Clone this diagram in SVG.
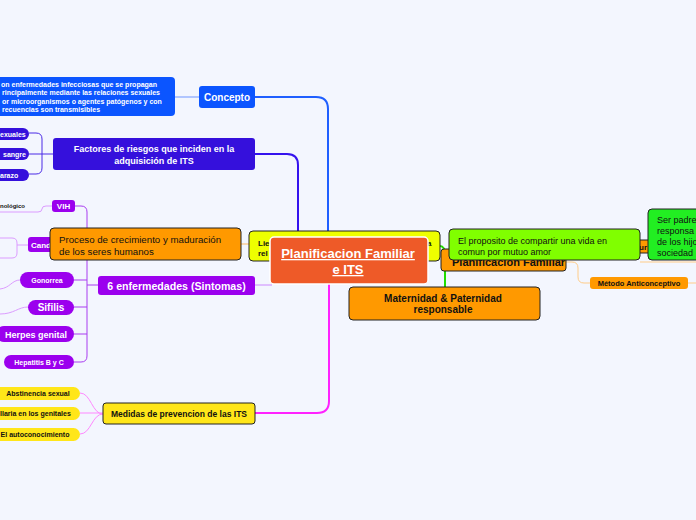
<svg xmlns="http://www.w3.org/2000/svg" width="696" height="520" viewBox="0 0 696 520">
<style>
text{font-family:"Liberation Sans",Arial,sans-serif}
.w{fill:#fff;font-weight:bold}
.k{fill:#111}
.kb{fill:#111;font-weight:bold}
.blue{fill:#0b55ff}
.ind{fill:#3510dc}
.pur{fill:#9b00ee}
.org{fill:#ff9900;stroke:#222;stroke-width:1}
.yel{fill:#ffe619}
.c{text-anchor:middle}
</style>
<rect width="696" height="520" fill="#f3f6fe"/>
<g id="connectors" fill="none">
  <path d="M175,97 H199" stroke="#6f95ff" stroke-width="1"/>
  <path d="M255,97 H316 Q328,97 328,109 V240" stroke="#1f5fff" stroke-width="2"/>
  <path d="M255,154 H287 Q298,154 298,165 V234" stroke="#3412ee" stroke-width="2"/>
  <path d="M255,413 H317 Q329,413 329,401 V282" stroke="#ff22ff" stroke-width="2"/>
  <path d="M255,285 H272" stroke="#cc88ff" stroke-width="1"/>
  <path d="M241,244 H250" stroke="#ffbb66" stroke-width="1"/>
  <path d="M53,154 H42 M29,154 H42 M29,133 H36 Q42,133 42,139 V168 Q42,174 36,174 H29" stroke="#4a2ae6" stroke-width="1"/>
  <path d="M75,206 H81 Q87,206 87,212 V356 Q87,362 81,362 H74 M74,280 H87 M74,307 H87 M74,334 H87 M87,285 H98 M58,245 H87" stroke="#a93cf0" stroke-width="1"/>
  <path d="M52,206 H46 Q42,206 42,209 Q42,212 38,212 H0 M28,245 H17 M0,238 H12 Q17,238 17,243 V253 Q17,258 12,258 H0 M20,280 C12,280 10,288 0,289 M28,307 C18,307 14,314 0,314" stroke="#dc9cff" stroke-width="1"/>
  <path d="M80,393 C91,393 92,414 103,414 M80,413 H103 M80,434 C91,434 92,414 103,414" stroke="#ff88ff" stroke-width="1"/>
  <path d="M440,246 Q445,246 445,256 V288" stroke="#22dd00" stroke-width="2"/>
  <path d="M566,262 H572 Q578,262 578,268 V277 Q578,283 584,283 H590 M688,283 H696 M640,262 H696" stroke="#ffcc88" stroke-width="1"/>
</g>
<g id="concepto-texto">
  <rect x="-10" y="77" width="185" height="39" rx="4" class="blue"/>
  <text class="w" font-size="7" x="1" y="87">on enfermedades infecciosas que se propagan</text>
  <text class="w" font-size="7" x="2" y="95">rincipalmente mediante las relaciones sexuales</text>
  <text class="w" font-size="7" x="2" y="104">or microorganismos o agentes patógenos y con</text>
  <text class="w" font-size="7" x="2" y="112">recuencias son transmisibles</text>
</g>
<g id="concepto">
  <rect x="199" y="86" width="56" height="22" rx="3" class="blue"/>
  <text class="w c" font-size="10" x="227" y="101">Concepto</text>
</g>
<g id="factores">
  <rect x="53" y="138" width="202" height="32" rx="3" class="ind"/>
  <text class="w c" font-size="9" x="154" y="152">Factores de riesgos que inciden en la</text>
  <text class="w c" font-size="9" x="154" y="164">adquisición de ITS</text>
</g>
<g id="f-sexuales"><rect x="-6" y="128" width="35" height="12" rx="6" class="ind"/><text class="w" font-size="7" x="0" y="136.5">exuales</text></g>
<g id="f-sangre"><rect x="-6" y="148" width="35" height="12" rx="6" class="ind"/><text class="w" font-size="7" x="3" y="157">sangre</text></g>
<g id="f-embarazo"><rect x="-6" y="169" width="35" height="12" rx="6" class="ind"/><text class="w" font-size="7" x="0" y="177.5">arazo</text></g>
<g id="tecnologico"><text class="kb" font-size="6" x="0" y="208">nológico</text></g>
<g id="vih"><rect x="52" y="200" width="23" height="12" rx="3" class="pur"/><text class="w c" font-size="8" x="63.5" y="209">VIH</text></g>
<g id="cand"><rect x="28" y="237" width="30" height="15" rx="3" class="pur"/><text class="w" font-size="8" x="31" y="248">Cand</text></g>
<g id="proceso">
  <rect x="50" y="228" width="191" height="32" rx="4" class="org"/>
  <text class="k" font-size="9.7" x="59" y="243">Proceso de crecimiento y maduración</text>
  <text class="k" font-size="9.7" x="59" y="255">de los seres humanos</text>
</g>
<g id="gonorrea"><rect x="20" y="272" width="54" height="16" rx="8" class="pur"/><text class="w c" font-size="7" x="47" y="282.5">Gonorrea</text></g>
<g id="sifilis"><rect x="28" y="300" width="46" height="15" rx="7.5" class="pur"/><text class="w c" font-size="10" x="51" y="311">Sifilis</text></g>
<g id="herpes"><rect x="-4" y="326" width="78" height="16" rx="8" class="pur"/><text class="w" font-size="9" x="5" y="337.5">Herpes genital</text></g>
<g id="hepatitis"><rect x="4" y="355" width="70" height="14" rx="7" class="pur"/><text class="w c" font-size="7" x="39" y="364.5">Hepatitis B y C</text></g>
<g id="sintomas">
  <rect x="98" y="276" width="157" height="19" rx="3" class="pur"/>
  <text class="w c" font-size="10.6" x="176.5" y="289.5">6 enfermedades (Sintomas)</text>
</g>
<g id="abstinencia"><rect x="-6" y="387" width="86" height="13" rx="6.5" class="yel"/><text class="kb c" font-size="7" x="38" y="396">Abstinencia sexual</text></g>
<g id="genitales"><rect x="-6" y="407" width="86" height="13" rx="6.5" class="yel"/><text class="kb" font-size="7" x="0" y="416">llaria en los genitales</text></g>
<g id="autoconocimiento"><rect x="-6" y="428" width="86" height="13" rx="6.5" class="yel"/><text class="kb c" font-size="7" x="35" y="437">El autoconocimiento</text></g>
<g id="medidas">
  <rect x="103" y="403" width="152" height="21" rx="3" class="yel" stroke="#222" stroke-width="1"/>
  <text class="kb c" font-size="8.5" x="179" y="417">Medidas de prevencion de las ITS</text>
</g>
<g id="lie">
  <rect x="249" y="231" width="191" height="30" rx="4" fill="#eeff00" stroke="#222" stroke-width="1"/>
  <text class="kb" font-size="8" x="258" y="246">Lie</text>
  <text class="kb" font-size="8" x="258" y="256">rel</text>
  <text class="kb" font-size="8" x="427" y="246">a</text>
</g>
<g id="central">
  <rect x="270" y="237" width="158" height="47" rx="4" fill="#ee5a28" stroke="#fff" stroke-width="1.5"/>
  <text class="w c" font-size="13" x="348" y="258" text-decoration="underline">Planificacion Familiar </text>
  <text class="w c" font-size="13" x="348" y="274" text-decoration="underline">e ITS</text>
</g>
<g id="maternidad">
  <rect x="349" y="287" width="191" height="33" rx="4" class="org"/>
  <text class="kb c" font-size="10" x="443" y="301.5">Maternidad &amp; Paternidad</text>
  <text class="kb c" font-size="10" x="443" y="312.5">responsable</text>
</g>
<g id="planificacion-familiar">
  <rect x="441" y="249" width="125" height="22" rx="3" class="org"/>
  <text class="kb" font-size="11" x="452" y="266">Planificacion Familiar</text>
</g>
<g id="metodo">
  <rect x="590" y="277" width="98" height="12" rx="3" fill="#ff9900"/>
  <text class="kb c" font-size="7.5" x="639" y="286">Método Anticonceptivo</text>
</g>
<g id="ur-node">
  <rect x="600" y="240" width="60" height="13" rx="3" fill="#ff9900" stroke="#222" stroke-width="1"/>
  <text class="kb" font-size="8" x="639" y="249.5">ur</text>
</g>
<g id="proposito">
  <rect x="449" y="229" width="191" height="31" rx="4" fill="#80ff00" stroke="#222" stroke-width="1"/>
  <text class="k" font-size="9" x="458" y="244">El proposito de compartir una vida en</text>
  <text class="k" font-size="9" x="458" y="255">comun por mutuo amor</text>
</g>
<g id="ser-padres">
  <rect x="648" y="209" width="60" height="51" rx="4" fill="#22ee22" stroke="#222" stroke-width="1"/>
  <text class="k" font-size="9" x="657" y="223">Ser padre</text>
  <text class="k" font-size="9" x="657" y="234">responsa</text>
  <text class="k" font-size="9" x="657" y="245">de los hijo</text>
  <text class="k" font-size="9" x="657" y="256">sociedad</text>
</g>
</svg>
